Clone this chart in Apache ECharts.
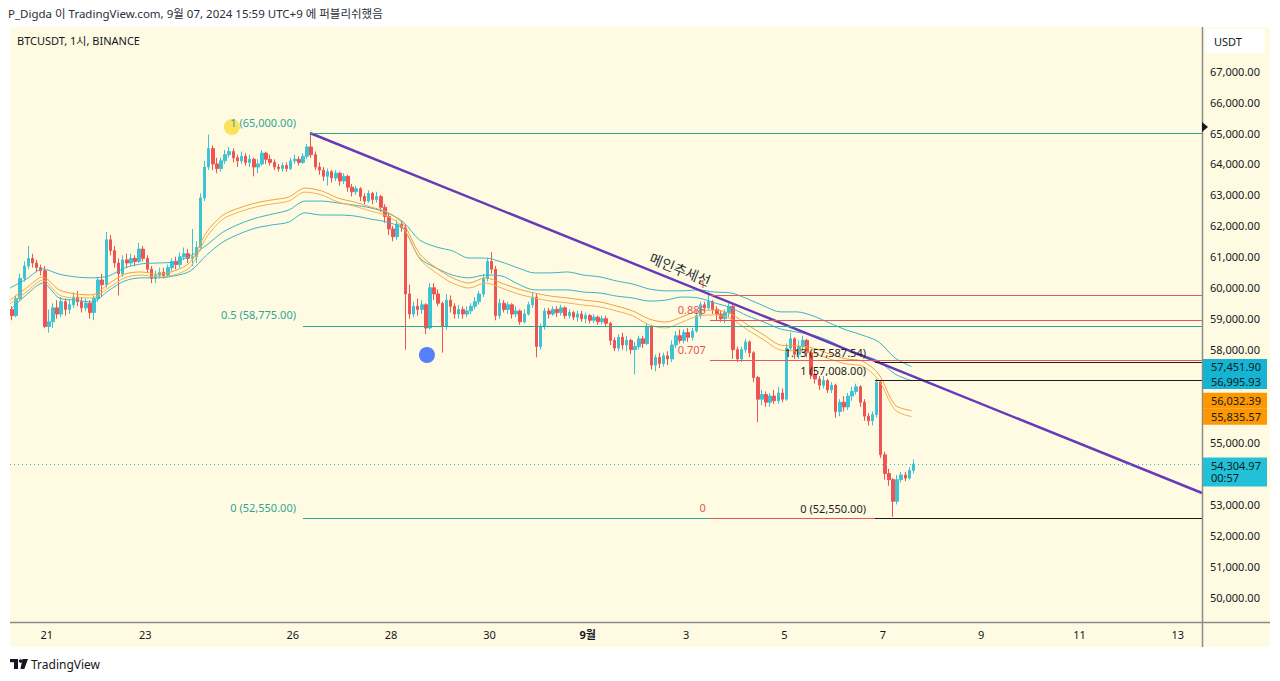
<!DOCTYPE html>
<html><head><meta charset="utf-8">
<script src="https://cdn.jsdelivr.net/npm/echarts@6/dist/echarts.min.js"></script>
<style>
html,body{margin:0;padding:0;background:#ffffff;}
#wrap{position:relative;width:1280px;height:681px;}
#panel{position:absolute;left:10px;top:27px;width:1260px;height:620px;background:#fffbe3;border-radius:4px;}
#c{position:absolute;left:0;top:0;width:1280px;height:681px;}
</style>
</head><body>
<div id="wrap"><div id="panel"></div><div id="c"></div></div>
<script>
// ---- DATA ----
// 2-hour candles starting 2024-08-20 06:00 (UTC+9). Each: [open, close, low, high]
const candles = [
[59300,59100,58950,59400],[59100,59650,59050,59750],[59650,60300,59600,60450],[60300,60700,60200,60850],
[60700,60950,60600,61350],[60950,60800,60650,61100],[60800,60650,60500,60900],[60650,60550,60400,60750],
[60550,58750,58700,60700],[58750,58900,58550,59300],[58900,59350,58700,59500],[59350,59150,59000,59600],
[59150,59550,59050,59700],[59550,59300,59100,59650],[59300,59450,59150,59600],[59450,59700,59350,59850],
[59700,59550,59400,59900],[59550,59350,59200,59700],[59350,59500,59250,59650],[59500,59200,59000,59600],
[59200,59650,58950,59750],[59650,60250,59550,60350],[60250,60100,59700,60450],[60100,61550,60000,61800],
[61550,61200,61050,61700],[61200,60800,60650,61350],[60800,60450,59750,60950],[60450,60900,60350,61050],
[60900,60800,60650,61100],[60800,60950,60700,61100],[60950,60850,60700,61050],[60850,61250,60800,61450],
[61250,60950,60850,61350],[60950,60600,60500,61050],[60600,60300,60150,60700],[60300,60400,60150,60550],
[60400,60500,60300,60650],[60500,60400,60300,60650],[60400,60650,60350,60750],[60650,60850,60550,60950],
[60850,60750,60600,61000],[60750,61000,60650,61150],[61000,61100,60900,61300],[61100,60950,60800,61250],
[60950,61000,60700,61900],[61000,61300,60800,61500],[61300,62900,61200,63050],[62900,63900,62800,64100],
[63900,64500,63800,64950],[64500,64000,63800,64600],[64000,63850,63700,64200],[63850,64100,63750,64200],
[64100,64300,64000,64450],[64300,64400,64200,64550],[64400,64200,64050,64500],[64200,64100,63900,64300],
[64100,64250,64000,64400],[64250,64050,63950,64350],[64050,64150,63900,64300],[64150,63900,63600,64200],
[63900,64000,63700,64150],[64000,64350,63950,64450],[64350,64150,64000,64400],[64150,64050,63950,64300],
[64050,63900,63800,64150],[63900,63850,63750,64000],[63850,63950,63750,64050],[63950,63850,63750,64050],
[63850,64100,63800,64200],[64100,64150,64000,64300],[64150,64050,63950,64250],[64050,64250,64000,64350],
[64250,64550,64150,64650],[64550,64300,64200,64950],[64300,63900,63800,64400],[63900,63800,63650,64050],
[63800,63600,63450,63900],[63600,63750,63300,63850],[63750,63550,63400,63800],[63550,63700,63450,63800],
[63700,63450,63300,63750],[63450,63600,63350,63700],[63600,63250,63100,63650],[63250,63100,62950,63350],
[63100,63200,63000,63300],[63200,62950,62800,63250],[62950,62800,62700,63050],[62800,63050,62750,63150],
[63050,62850,62700,63100],[62850,62950,62750,63100],[62950,62600,62450,63000],[62600,62300,62100,62700],
[62300,61900,61700,62400],[61900,61650,61500,62000],[61650,62050,61550,62200],[62050,61950,61800,62150],
[61950,59800,58000,62050],[59800,59150,59000,60100],[59150,59400,59050,59550],[59400,59300,59100,59650],
[59300,59450,59150,59600],[59450,58700,58500,59500],[58700,60000,58650,60150],[60000,59800,59600,60150],
[59800,59500,59400,59950],[59500,58750,57900,59550],[58750,59600,58650,59800],[59600,59400,59200,59750],
[59400,59150,59000,59500],[59150,59300,59000,59450],[59300,59150,59000,59400],[59150,59250,59050,59400],
[59250,59400,59150,59500],[59400,59550,59300,59700],[59550,59800,59450,59900],[59800,60300,59700,60450],
[60300,60850,60200,60950],[60850,60600,60450,61150],[60600,59100,58950,60700],[59100,59500,59000,59650],
[59500,59300,59200,59600],[59300,59450,59150,59550],[59450,59150,59000,59500],[59150,59250,59050,59400],
[59250,58900,58800,59300],[58900,59150,58850,59300],[59150,59450,59100,59550],[59450,59700,59350,59850],
[59700,58100,57750,59800],[58100,58750,58000,58850],[58750,59250,58650,59350],[59250,59150,59000,59350],
[59150,59300,59100,59400],[59300,59200,59050,59400],[59200,59350,59100,59450],[59350,59100,59000,59400],
[59100,59200,59000,59300],[59200,59050,58950,59250],[59050,59150,58900,59250],[59150,59000,58900,59250],
[59000,59100,58850,59200],[59100,58950,58850,59150],[58950,59050,58850,59150],[59050,58900,58800,59100],
[58900,59000,58800,59100],[59000,58850,58750,59100],[58850,58300,58150,58900],[58300,58050,57950,58400],
[58050,58400,57950,58500],[58400,58150,58000,58550],[58150,58300,57950,58450],[58300,58000,57850,58350],
[58000,58100,57200,58250],[58100,58350,58000,58450],[58350,58200,58050,58450],[58200,58750,58150,58850],
[58750,57500,57350,58800],[57500,57750,57300,57850],[57750,57550,57400,57900],[57550,57800,57450,57900],
[57800,57700,57500,57950],[57700,58150,57600,58300],[58150,58450,58050,58600],[58450,58300,58200,58650],
[58300,58550,58200,58650],[58550,58400,58250,58700],[58400,58600,58300,58700],[58600,59100,58550,59250],
[59100,59450,59000,59550],[59450,59350,59200,59550],[59350,59550,59300,59850],[59550,59300,59150,59600],
[59300,59150,58950,59400],[59150,59000,58900,59250],[59000,59200,58850,59300],[59200,59400,59050,59500],
[59400,58000,57700,59450],[58000,57700,57600,58100],[57700,58000,57600,58100],[58000,58250,57900,58350],
[58250,57900,57750,58300],[57900,57100,56950,57950],[57100,56400,55650,57150],[56400,56550,56200,56700],
[56550,56300,56150,56650],[56300,56500,56150,56600],[56500,56350,56250,56700],[56350,56600,56250,56800],
[56600,56400,56300,56750],[56400,58050,56350,58200],[58050,58350,57950,58550],[58350,57850,57700,58400],
[57850,58100,57700,58300],[58100,58300,57950,58450],[58300,57900,57750,58350],[57900,57200,57050,57950],
[57200,57050,56900,57350],[57050,56850,56700,57150],[56850,57000,56750,57150],[57000,56700,56600,57050],
[56700,56850,56600,56950],[56850,56000,55800,56900],[56000,56300,55850,56400],[56300,56150,56000,56500],
[56150,56500,56050,56600],[56500,56650,56350,56800],[56650,56800,56550,56900],[56800,56300,56150,56850],
[56300,55850,55700,56400],[55850,55700,55550,55950],[55700,55900,55550,56000],[55900,56950,55800,57050],
[56950,54600,54500,57000],[54600,54000,53800,54700],[54000,53800,53600,54150],[53800,53100,52600,53850],
[53100,53800,53000,53950],[53800,53950,53700,54050],[53950,53850,53750,54050],[53850,54100,53800,54200],
[54100,54304.97,54000,54450]
];
const candleHours = 2;           // bucket size in hours
const bandStepHours = 8;         // band samples every 8 hours from the first candle
const cyanUpper = [59990,60280,60610,60440,60350,60320,60380,60640,60770,60800,60830,61030,61380,61800,62060,62250,62380,62510,62800,62800,62740,62670,62580,62420,62120,61540,61320,61190,60960,60960,60830,60640,60480,60480,60510,60410,60350,60220,60120,59960,59900,59900,59930,59860,59830,59640,59410,59220,59220,59090,58860,58640,58470,58250,57730,57451.90];
const cyanLower = [59280,59770,60150,59670,59600,59540,59900,60220,60320,60320,60380,60540,61060,61480,61740,61930,62030,62120,62420,62350,62350,62320,62220,62120,61900,60960,60640,60410,60320,60410,60380,60120,59930,59930,59930,59860,59830,59730,59670,59570,59600,59700,59670,59510,59350,59090,58890,58670,58570,58470,58280,58020,57830,57630,57210,56995.93];
const orangeUpper = [59600,59990,60350,59930,59800,59770,60120,60440,60510,60440,60540,60830,61800,62350,62580,62740,62840,62930,63220,63130,62900,62770,62610,62450,62060,61090,60640,60320,60150,60320,60150,59960,59830,59730,59670,59600,59540,59410,59250,58990,58890,59060,59250,59280,59150,58800,58470,58150,58120,58050,57860,57700,57630,57210,56210,56032.39];
const orangeLower = [59480,59860,60250,59770,59670,59670,59990,60320,60410,60350,60410,60670,61640,62220,62450,62610,62710,62800,63090,63000,62770,62640,62480,62320,61930,60930,60480,60150,59990,60150,59990,59800,59670,59570,59510,59440,59380,59250,59090,58800,58700,58890,59090,59120,58990,58640,58310,57990,57960,57890,57700,57540,57470,57020,56050,55835.57];

const xTickHours  = [18,66,138,186,234,282,330,378,426,474,522,570];
const xTickLabels = ['21','23','26','28','30','9월','3','5','7','9','11','13'];
const yTicks = [50000,51000,52000,53000,55000,58000,59000,60000,61000,62000,63000,64000,65000,66000,67000];
const X_MAX = 581.8, Y_MIN = 49200, Y_MAX = 68425;

// drawings (hour, price)
const tealFibStart = 143, tealFibTopStart = 146.4;
const tealFibPrices = [65000, 58775, 52550];
const tealFibLabels = ['1 (65,000.00)', '0.5 (58,775.00)', '0 (52,550.00)'];
const redFibStart = 341.6;
const redFibPrices = [59766, 58943, 57652, 52550];
const redFibLabels = ['1', '0.886', '0.707', '0'];
const blackFibStart = 422.2;
const blackFibPrices = [57587.54, 57008, 52550];
const blackFibLabels = ['1.13 (57,587.54)', '1 (57,008.00)', '0 (52,550.00)'];
const trendLine = [[146.4, 65000], [581.8, 53368]];
const trendLabel = '메인추세선';
const yellowDot = [108.3, 65194];
const blueDot = [203.5, 57827];
const lastPrice = 54304.97;
const countdown = '00:57';

// ---- CHART ----
const FONT = "'Noto Sans','Noto Sans CJK KR',sans-serif";
const TXT = '#131722';
const TEAL = '#2fa595';
const RED = '#e4575a';
const BLACK = '#1e1e1e';
const chart = echarts.init(document.getElementById('c'), null, {renderer:'svg', width:1280, height:681});
const fmt = v => Number(v).toLocaleString('en-US',{minimumFractionDigits:2,maximumFractionDigits:2});

const candleData = candles.map((c,i)=>[i*candleHours+candleHours/2, c[0], c[1], c[2], c[3]]);
const band = arr => arr.map((v,i)=>[i*bandStepHours, v]);

const series = [
  {type:'candlestick', data:candleData, encode:{x:0,y:[1,2,3,4]}, barWidth:3, silent:true,
   itemStyle:{color:'#3ec3d5', color0:'#ef5454', borderColor:'#3ec3d5', borderColor0:'#ef5454', borderWidth:1}, z:3},
  {type:'line', data:band(cyanUpper), symbol:'none', smooth:0.3, lineStyle:{color:'#39b4c4',width:1}, silent:true, z:4},
  {type:'line', data:band(cyanLower), symbol:'none', smooth:0.3, lineStyle:{color:'#39b4c4',width:1}, silent:true, z:4},
  {type:'line', data:band(orangeUpper), symbol:'none', smooth:0.3, lineStyle:{color:'#f2a035',width:1}, silent:true, z:4},
  {type:'line', data:band(orangeLower), symbol:'none', smooth:0.3, lineStyle:{color:'#f5ad4c',width:1}, silent:true, z:4},
  {type:'line', data:trendLine, symbol:'none', silent:true, lineStyle:{color:'#673ab7',width:2.5}, z:6},
  {type:'scatter', data:[yellowDot], symbolSize:16, itemStyle:{color:'#f7dc3c'}, silent:true, z:7},
  {type:'scatter', data:[blueDot], symbolSize:16, itemStyle:{color:'#2962ff'}, silent:true, z:7}
];

chart.setOption({
  animation:false,
  backgroundColor:'transparent',
  textStyle:{fontFamily:FONT},
  grid:{left:10, right:78, top:27, bottom:59},
  xAxis:{type:'value', min:0, max:X_MAX, splitLine:{show:false}, axisLine:{show:false}, axisTick:{show:false},
    axisLabel:{customValues:xTickHours, margin:7, fontSize:11, color:TXT, fontFamily:FONT,
      formatter:v=>{const s=xTickLabels[xTickHours.indexOf(v)]||''; return s==='9월'?'{b|'+s+'}':s;},
      rich:{b:{fontWeight:'bold', fontSize:11, color:TXT, fontFamily:FONT}}}},
  yAxis:{type:'value', position:'right', min:Y_MIN, max:Y_MAX, splitLine:{show:false}, axisLine:{show:false}, axisTick:{show:false},
    axisLabel:{customValues:yTicks, margin:8, fontSize:11, color:TXT, fontFamily:FONT, formatter:v=>fmt(v)}},
  series
});

// ---- annotations placed through the chart's own scales ----
const px = (h,p) => chart.convertToPixel({xAxisIndex:0, yAxisIndex:0}, [h,p]);
const snap = v => Math.round(v) + 0.5;
const g = [];
const text = (x,y,t,opt) => g.push(Object.assign({type:'text', x, y, z:100, silent:true,
  style:Object.assign({text:t, fill:TXT, font:'11px '+FONT, align:'left', verticalAlign:'middle', textAlign:'left', textVerticalAlign:'middle'}, opt||{})}));
const hseg = (h0, p, color, dash) => { const a = px(h0,p), b = px(X_MAX,p); const y = snap(a[1]);
  g.push({type:'line', z:40, silent:true, shape:{x1:a[0], y1:y, x2:b[0], y2:y}, style:{stroke:color, lineWidth:1, lineDash:dash||null}}); };

// fib / level lines (drawn in order so later ones sit on top)
hseg(tealFibTopStart, tealFibPrices[0], TEAL);
hseg(tealFibStart, tealFibPrices[1], TEAL);
hseg(tealFibStart, tealFibPrices[2], TEAL);
redFibPrices.forEach(p=>hseg(redFibStart, p, RED));
blackFibPrices.forEach(p=>hseg(blackFibStart, p, BLACK));
hseg(0, lastPrice, '#2bbdd3', [1,3]);

// separators
g.push({type:'line', z:90, silent:true, shape:{x1:1202.5,y1:27,x2:1202.5,y2:647}, style:{stroke:'#8c8c86', lineWidth:1.5}});
g.push({type:'line', z:90, silent:true, shape:{x1:10,y1:622.5,x2:1270,y2:622.5}, style:{stroke:'#8c8c86', lineWidth:1.5}});

// header & titles
text(8, 13, 'P_Digda 이 TradingView.com, 9월 07, 2024 15:59 UTC+9 에 퍼블리쉬했음', {font:'11.5px '+FONT, fill:'#2a2e39'});
text(17, 40, 'BTCUSDT, 1시, BINANCE', {font:'11px '+FONT});
// USDT box
g.push({type:'rect', z:95, silent:true, shape:{x:1205,y:29,width:60,height:24,r:4}, style:{fill:'#ffffff'}});
text(1214, 41, 'USDT', {font:'11px '+FONT});

// fib labels
tealFibPrices.forEach((p,i)=>{const s=px(i===0?tealFibTopStart:tealFibStart,p); const e=px(tealFibStart,p);
  text(e[0]-7, s[1]-11, tealFibLabels[i], {fill:TEAL, align:'right', textAlign:'right'});});
redFibPrices.forEach((p,i)=>{const s=px(redFibStart,p);
  text(s[0]-4, s[1]-11, redFibLabels[i], {fill:RED, align:'right', textAlign:'right'});});
blackFibPrices.forEach((p,i)=>{const s=px(blackFibStart,p);
  text(s[0]-9, s[1]-10, blackFibLabels[i], {fill:BLACK, align:'right', textAlign:'right'});});

// trend line label
(function(){
  const a = px(trendLine[0][0], trendLine[0][1]), b = px(trendLine[1][0], trendLine[1][1]);
  const ang = Math.atan2(b[1]-a[1], b[0]-a[0]);
  const t = 0.41; const cx = a[0]+(b[0]-a[0])*t, cy = a[1]+(b[1]-a[1])*t;
  const off = 12; const nx = Math.sin(ang)*off, ny = -Math.cos(ang)*off;
  g.push({type:'text', z:100, silent:true, x:cx+nx, y:cy+ny, rotation:-ang,
    style:{text:trendLabel, fill:'#2a2e39', font:'14px '+FONT, align:'center', verticalAlign:'middle', textAlign:'center', textVerticalAlign:'middle'}});
})();

// price scale marker arrow near 65,000
(function(){const y = px(0,65000)[1]-6; g.push({type:'polygon', z:95, silent:true, shape:{points:[[1202,y-5],[1208,y],[1202,y+5]]}, style:{fill:'#131722'}});})();

// price tags
function tag(cy, h, lines, bg){
  g.push({type:'rect', z:96, silent:true, shape:{x:1203,y:cy-h/2,width:64,height:h}, style:{fill:bg}});
  lines.forEach((l,i)=>text(1211, cy-h/2+7.5+i*13, l, {font:'11px '+FONT, fill:'#0f1c24'}));
}
const yCu = px(0,cyanUpper[cyanUpper.length-1])[1], yCl = px(0,cyanLower[cyanLower.length-1])[1];
tag(yCu, 15, [fmt(cyanUpper[cyanUpper.length-1])], '#14b4d2');
tag(Math.max(yCl, yCu+15), 15, [fmt(cyanLower[cyanLower.length-1])], '#14b4d2');
const yOu = px(0,orangeUpper[orangeUpper.length-1])[1], yOl = px(0,orangeLower[orangeLower.length-1])[1];
tag(Math.min(yOu, yOl-16), 16, [fmt(orangeUpper[orangeUpper.length-1])], '#ff9800');
tag(yOl, 16, [fmt(orangeLower[orangeLower.length-1])], '#ff9800');
(function(){const y = px(0,lastPrice)[1];
  g.push({type:'rect', z:96, silent:true, shape:{x:1203,y:y-6.5,width:64,height:29}, style:{fill:'#22c1d8'}});
  text(1211, y+1, fmt(lastPrice), {fill:'#0f1c24'});
  text(1211, y+13.5, countdown, {fill:'#0f1c24'});
})();

// TradingView logo
g.push({type:'rect', z:100, silent:true, shape:{x:10,y:659,width:8,height:3.2}, style:{fill:TXT}});
g.push({type:'rect', z:100, silent:true, shape:{x:14,y:659,width:4,height:10}, style:{fill:TXT}});
g.push({type:'circle', z:100, silent:true, shape:{cx:20.6,cy:661,r:1.8}, style:{fill:TXT}});
g.push({type:'polygon', z:100, silent:true, shape:{points:[[22.5,659],[28,659],[24.3,669],[20.4,669]]}, style:{fill:TXT}});
text(31, 664, 'TradingView', {font:'12px '+FONT});

chart.setOption({graphic:{elements:g}});
</script>
</body></html>
